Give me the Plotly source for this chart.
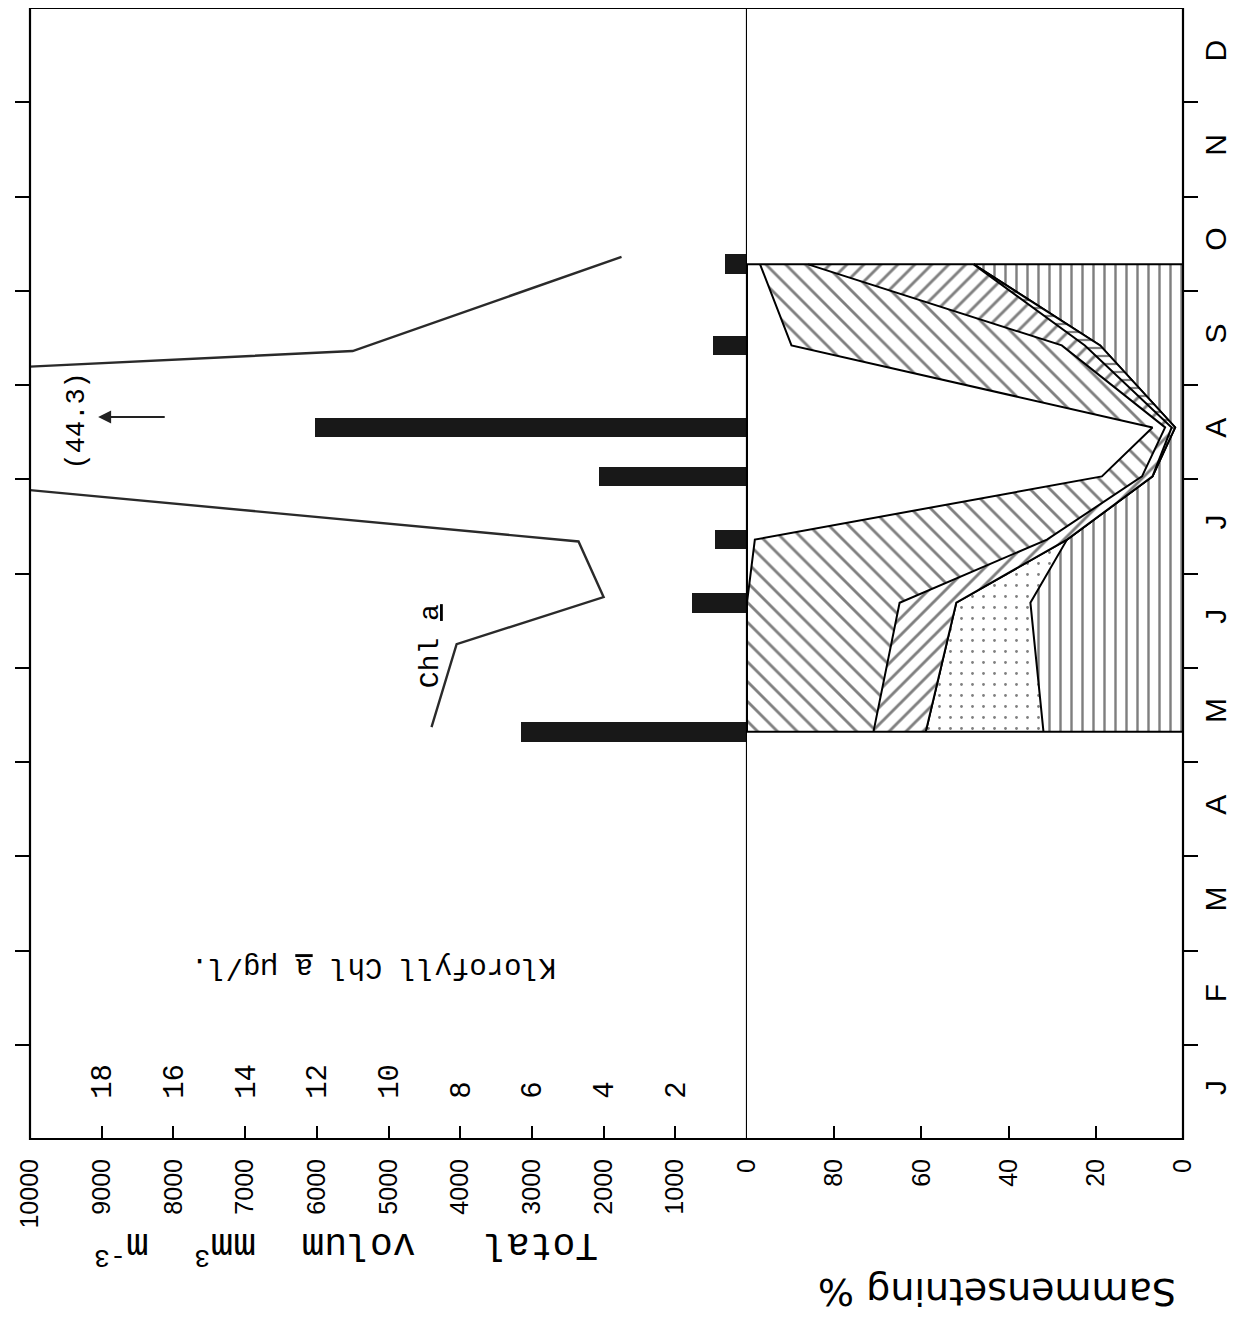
import plotly.graph_objects as go

# ---------------- data ----------------
months = ["J", "F", "M", "A", "M", "J", "J", "A", "S", "O", "N", "D"]
month_centers = [0.5, 1.5, 2.5, 3.5, 4.5, 5.5, 6.5, 7.5, 8.5, 9.5, 10.5, 11.5]
month_bounds = [1, 2, 3, 4, 5, 6, 7, 8, 9, 10, 11]

# sampling dates (decimal months from 1 Jan)
sample_month = [4.32, 5.69, 6.36, 7.03, 7.55, 8.42, 9.28]
total_volume = [3150, 770, 450, 2060, 6030, 470, 310]   # mm3 m-3

# composition (%) stacked from 0 %
pct_A = [32, 35, 26.6, 7, 1.8, 19, 48]      # vertical lines
pct_B = [27, 17, 0, 0, 0, 0, 0]             # dots
pct_L = [0, 0, 0, 0, 0.8, 3.5, 0]           # horizontal lines
pct_C = [12, 13, 4.6, 2.4, 1.5, 5.3, 38]    # '/' hatch
pct_D = [29, 35, 67, 9.2, 2.9, 62, 11]      # '\' hatch
pct_E = [0, 0, 1.8, 81.4, 93, 10.2, 3]      # blank

chl_month = [4.37, 5.25, 5.75, 6.34, 7.75, 8.36, 9.36]
chl_value = [8.8, 8.1, 4.0, 4.7, 44.3, 11.0, 3.5]   # ug/l

vol_ticks = [0, 1000, 2000, 3000, 4000, 5000, 6000, 7000, 8000, 9000, 10000]
vol_ticktext = ["0", "1000", "2000", "3000", "4000", "5000", "6000", "7000",
                "8000", "9000", "10000"]
pct_ticks = [0, 20, 40, 60, 80]
chl_ticks = [2, 4, 6, 8, 10, 12, 14, 16, 18]

# ---------------- figure ----------------
W, H = 1226, 1311
PL, PR, PT, PB = 30, 1183, 8, 1139          # page-pixel frame
ml, mt = PL - 8, PT - 8
mr = 8 + W - PR
mb = 8 + H - PB
PW, PH = PR - PL, PB - PT
split = (747 - PL) / PW


def px(xp):
    return (xp - PL) / PW


def py(yp):
    return (PB - yp) / PH


SANS = "DejaVu Sans"
PLOT = "Liberation Sans"
MONO = "Liberation Mono"

fig = go.Figure()

fig.add_trace(go.Bar(
    x=total_volume, y=sample_month, orientation="h", width=0.21,
    marker=dict(color="#181818", line=dict(width=0)),
    xaxis="x", yaxis="y", showlegend=False, hoverinfo="skip"))

layers = [
    (pct_A, "|", 11, 0.22),
    (pct_B, ".", 11, 0.05),
    (pct_L, "-", 8, 0.28),
    (pct_C, "/", 12, 0.24),
    (pct_D, "\\", 14, 0.2),
    (pct_E, "", 10, 0.1),
]
for vals, shp, sz, sol in layers:
    kw = {}
    if shp:
        kw["fillpattern"] = dict(shape=shp, fgcolor="black", bgcolor="white",
                                 size=sz, solidity=sol)
    else:
        kw["fillcolor"] = "white"
    fig.add_trace(go.Scatter(
        x=vals, y=sample_month, orientation="h", stackgroup="comp",
        mode="lines", line=dict(color="black", width=2),
        xaxis="x2", yaxis="y", showlegend=False, hoverinfo="skip", **kw))

fig.add_trace(go.Scatter(
    x=chl_value, y=chl_month, mode="lines",
    line=dict(color="#2a2a2a", width=2.4),
    xaxis="x3", yaxis="y2", showlegend=False, hoverinfo="skip"))

axis_common = dict(showgrid=False, zeroline=False, showline=False,
                   tickcolor="black", tickwidth=2)
valfont = dict(family=PLOT, size=25, color="black")

fig.update_layout(
    width=W, height=H,
    margin=dict(l=ml, r=mr, t=mt, b=mb),
    paper_bgcolor="white", plot_bgcolor="white",
    bargap=0,
    xaxis=dict(domain=[0, split], range=[10000, 0], anchor="y",
               tickmode="array", tickvals=vol_ticks, ticktext=vol_ticktext,
               ticks="inside", ticklen=13, tickangle=-90,
               ticklabelstandoff=14, tickfont=valfont, **axis_common),
    xaxis2=dict(domain=[split, 1], range=[100, 0], anchor="y",
                tickmode="array", tickvals=pct_ticks,
                ticks="inside", ticklen=13, tickangle=-90,
                ticklabelstandoff=14, tickfont=valfont, **axis_common),
    xaxis3=dict(overlaying="x", range=[20, 0], anchor="y", side="bottom",
                tickmode="array", tickvals=chl_ticks, ticks="",
                ticklabelposition="inside", tickangle=-90,
                ticklabelstandoff=27,
                tickfont=dict(family=MONO, size=29, color="black"),
                showgrid=False, zeroline=False, showline=False),
    yaxis=dict(range=[0, 12], anchor="x2", side="right",
               tickmode="array", tickvals=month_centers, ticktext=months,
               ticks="", tickangle=-90, ticklabelstandoff=12,
               tickfont=dict(family=PLOT, size=30, color="black"),
               minor=dict(tickmode="array", tickvals=month_bounds,
                          ticks="outside", ticklen=14, tickwidth=2,
                          tickcolor="black"),
               showgrid=False, zeroline=False, showline=False),
    yaxis2=dict(range=[0, 12], anchor="x", side="left", overlaying="y",
                tickmode="array", tickvals=month_bounds,
                ticks="outside", ticklen=14, showticklabels=False,
                **axis_common),
)

# frame and baseline
fig.add_shape(type="rect", xref="paper", yref="paper", x0=0, x1=1, y0=0, y1=1,
              line=dict(color="black", width=2.2))
fig.add_shape(type="line", xref="x", yref="paper", x0=0, x1=0, y0=0, y1=1,
              line=dict(color="black", width=2.2), layer="above")
# closing edges of the composition block
for m in (sample_month[0], sample_month[-1]):
    fig.add_shape(type="line", xref="x2", yref="y", x0=0, x1=100, y0=m, y1=m,
                  line=dict(color="black", width=2))

ann = []
ann.append(dict(text="(44.3)", x=18.7, y=7.62, xref="x3", yref="y2",
                showarrow=False, textangle=-90,
                font=dict(family=MONO, size=27, color="black")))
ann.append(dict(text="", x=18.1, y=7.66, xref="x3", yref="y2",
                ax=16.2, ay=7.66, axref="x3", ayref="y2",
                showarrow=True, arrowhead=2, arrowsize=1.3, arrowwidth=2,
                arrowcolor="#222"))
ann.append(dict(text="Chl <u>a</u>", x=8.84, y=5.23, xref="x3", yref="y2",
                showarrow=False, textangle=-90,
                font=dict(family=MONO, size=28, color="black")))
ann.append(dict(text="Klorofyll Chl <u>a</u> µg/l.", x=10.4, y=1.83,
                xref="x3", yref="y2", showarrow=False, textangle=180,
                font=dict(family=MONO, size=29, color="black")))
ann.append(dict(text="Total\u00a0\u00a0\u00a0volum\u00a0\u00a0mm<sup>3</sup>\u00a0\u00a0m<sup>-3</sup>",
                x=px(346), y=py(1248),
                xref="paper", yref="paper", xanchor="center", yanchor="middle",
                showarrow=False, textangle=180,
                font=dict(family=MONO, size=38, color="black")))
ann.append(dict(text="Sammensetning %",
                x=px(997), y=py(1292),
                xref="paper", yref="paper", xanchor="center", yanchor="middle",
                showarrow=False, textangle=180,
                font=dict(family=SANS, size=38, color="black")))
fig.update_layout(annotations=ann)

fig.write_html("out.html")
